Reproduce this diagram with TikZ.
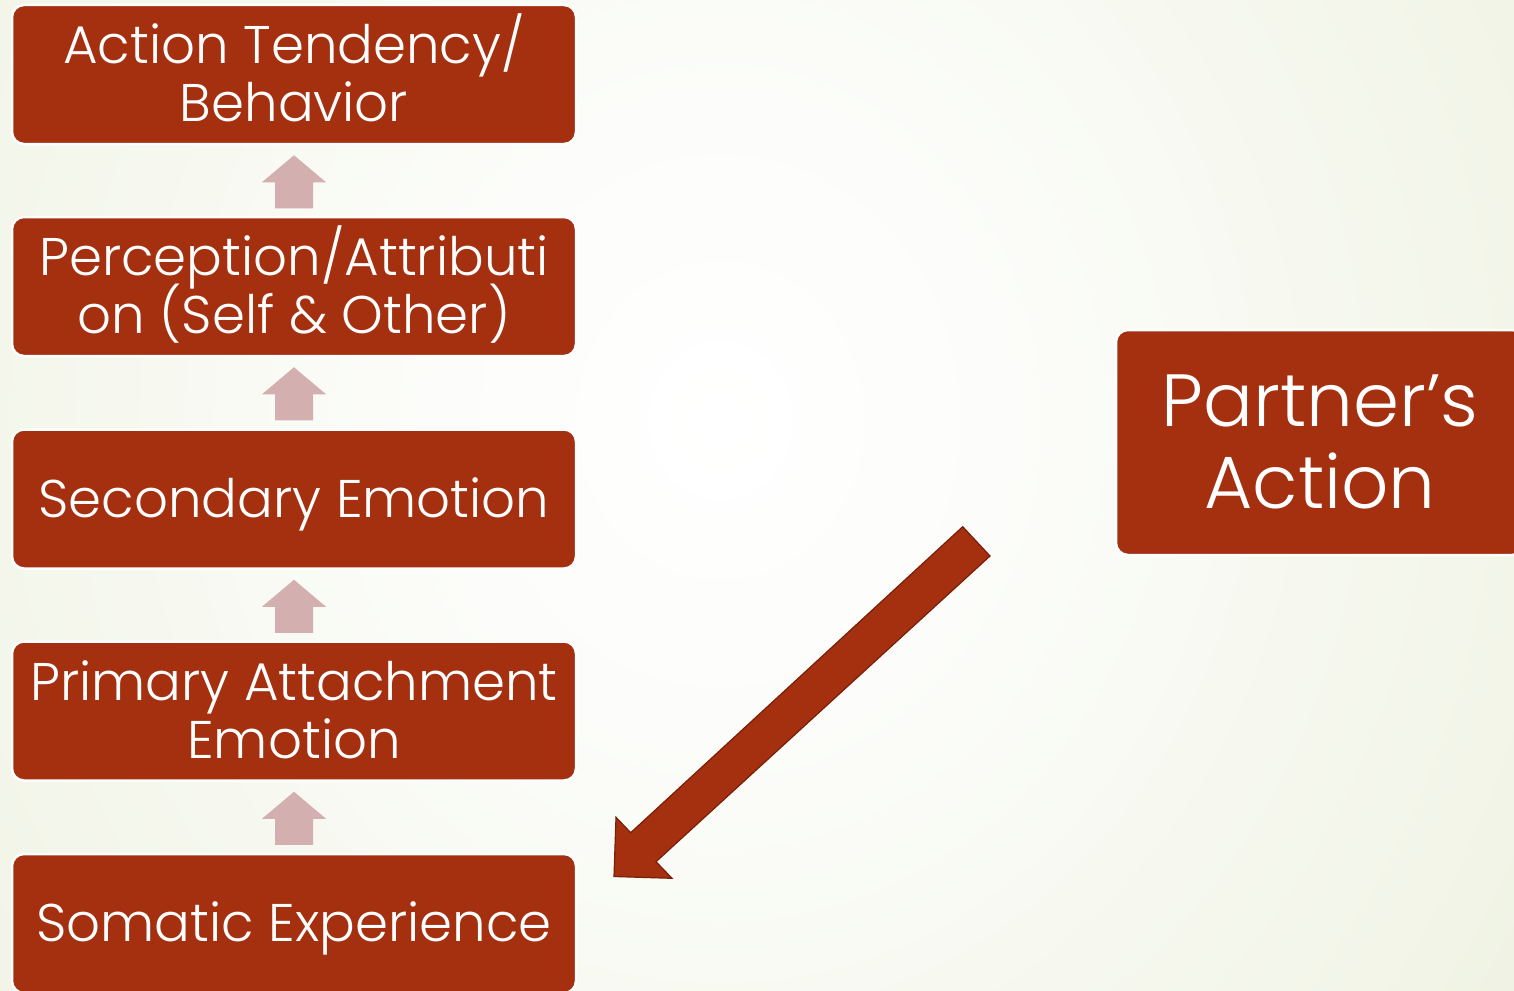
\documentclass[tikz,border=0pt]{standalone}
\usepackage{fontspec}
\setmainfont{Poppins}[UprightFont={* Light}]
\usetikzlibrary{calc}
\definecolor{boxred}{HTML}{A53010}
\definecolor{boxedge}{HTML}{7A1E08}
\definecolor{uppink}{HTML}{D4AFAF}
\definecolor{bgedge}{HTML}{E2E8CB}
\definecolor{bgmid}{HTML}{FCFDFA}
\pgfdeclareradialshading{bgshade}{\pgfpoint{0bp}{0bp}}{color(0bp)=(white); color(8bp)=(bgmid); color(46bp)=(bgedge); color(80bp)=(bgedge)}
\newcommand\tln[1]{\rule[-8pt]{0pt}{52pt}\smash{#1}}
\newcommand\tlb[1]{\rule[-11pt]{0pt}{71pt}\smash{#1}}
\tikzset{
  stepbox/.style={fill=boxred, draw=white, line width=2.5pt, rounded corners=12pt,
    minimum width=564pt, minimum height=139pt, inner sep=0pt, text=white,
    align=center, font=\fontsize{53}{58}\selectfont},
  bigbox/.style={stepbox, minimum width=408pt, minimum height=225pt,
    font=\fontsize{74}{82}\selectfont},
  uparrow/.style={fill=uppink, draw=none},
  bigarrow/.style={fill=boxred, draw=boxedge, line width=1.2pt, line join=miter}
}
\begin{document}
\begin{tikzpicture}[x=1pt,y=-1pt]
\useasboundingbox (0,0) rectangle (1514,990);
\begin{scope}
  \clip (0,0) rectangle (1514,990);
  \shade[shading=bgshade] (-180,-580) rectangle (1620,1420);
\end{scope}
% boxes
\node[stepbox] (b1) at (294,74.5)  {\tln{Action Tendency/}\\\tln{Behavior}};
\node[stepbox] (b2) at (294,286.5) {\tln{Perception/Attributi}\\\tln{on (Self \& Other)}};
\node[stepbox] (b3) at (294,499)   {\tln{Secondary Emotion}};
\node[stepbox] (b4) at (294,711)   {\tln{Primary Attachment}\\\tln{Emotion}};
\node[stepbox] (b5) at (294,923.5) {\tln{Somatic Experience}};
\node[bigbox] (pa) at (1320,442.5) {\tlb{Partner’s}\\\tlb{Action}};
% small block arrows between boxes
\foreach \lo/\hi in {b2/b1, b3/b2, b4/b3, b5/b4}{
  \fill[uparrow] ($(\hi.south)+(0,10)$) -- ++(32,27) -- ++(-13,0) -- ++(0,26)
     -- ++(-38,0) -- ++(0,-26) -- ++(-13,0) -- cycle;
}
% big arrow from Partner's Action towards Somatic Experience
\coordinate (t1) at (962.7,526.7);
\coordinate (t2) at (990,556);
\coordinate (tip) at (614,876.5);
\draw[bigarrow] (t1) -- (t2) -- (656,861.7) -- (672,878.3) -- (tip)
  -- (616,817.3) -- (630.7,832.7) -- cycle;
\end{tikzpicture}
\end{document}
